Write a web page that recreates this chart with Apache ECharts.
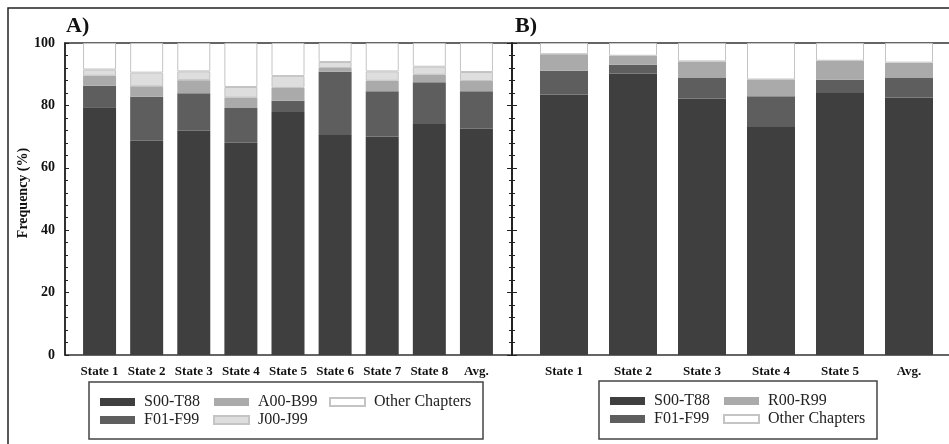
<!DOCTYPE html>
<html>
<head>
<meta charset="utf-8">
<script src="https://cdn.jsdelivr.net/npm/echarts@6/dist/echarts.min.js"></script>
<style>html,body{margin:0;padding:0;background:#fff;}#c{width:949px;height:444px;}</style>
</head>
<body>
<div id="c"></div>
<script>
// ---- Data (Frequency %) ----
const catsA = ['State 1','State 2','State 3','State 4','State 5','State 6','State 7','State 8','Avg.'];
const aS00 = [79.4, 68.7, 71.9, 68.0, 77.9, 70.5, 70.0, 74.0, 72.5];
const aF01 = [6.9, 14.1, 12.0, 11.2, 3.6, 20.3, 14.5, 13.4, 12.0];
const aA00 = [3.2, 3.3, 4.2, 3.3, 4.1, 1.2, 3.4, 2.4, 3.3];
const aJ00 = [2.0, 4.4, 2.8, 3.4, 3.8, 1.9, 3.0, 2.6, 2.9];
const aOther = [8.5, 9.5, 9.1, 14.1, 10.6, 6.1, 9.1, 7.6, 9.3];

const catsB = ['State 1','State 2','State 3','State 4','State 5','Avg.'];
const bS00 = [83.5, 90.2, 82.2, 73.1, 84.0, 82.5];
const bF01 = [7.6, 2.8, 6.6, 9.8, 4.2, 6.3];
const bR00 = [5.3, 2.9, 5.3, 5.4, 6.1, 4.9];
const bOther = [3.6, 4.1, 5.9, 11.7, 5.7, 6.3];

const SERIF = '"Liberation Serif", "DejaVu Serif", serif';
const C_S = '#3f3f3f', C_F = '#5e5e5e', C_A = '#aaaaaa', C_J = '#dedede', C_O = '#ffffff';

const chart = echarts.init(document.getElementById('c'), null, {renderer:'canvas'});

function bar(name, data, color, xi, yi, stack, w, border) {
  return {
    name, type:'bar', data, stack, xAxisIndex: xi, yAxisIndex: yi, barWidth: w,
    itemStyle: { color, borderColor: border ? '#c4c4c4' : color, borderWidth: border ? 1 : 0 },
    emphasis: { disabled: true }, animation: false
  };
}

const legendText = { fontFamily: SERIF, fontSize: 16, color: '#222', padding: [0,0,0,4] };
function legend(data, left, top) {
  return { data, left, top, orient: 'vertical', padding: 0, itemGap: 2, itemWidth: 35, itemHeight: 8,
           icon: 'rect', selectedMode: false, textStyle: legendText };
}

const catLabel = { fontFamily: SERIF, fontWeight: 'bold', fontSize: 13, color: '#111', margin: 10, interval: 0 };

const option = {
  animation: false,
  grid: [
    { left: 65, top: 43, width: 447, height: 312, show: true, borderColor: '#333', borderWidth: 1.5, backgroundColor: 'transparent', outerBoundsMode: 'none' },
    { left: 512, top: 43, width: 460, height: 312, show: true, borderColor: '#333', borderWidth: 1.5, backgroundColor: 'transparent', outerBoundsMode: 'none' },
    { left: 76, top: 43, width: 424, height: 312, outerBoundsMode: 'none' },
    { left: 529.5, top: 43, width: 414, height: 312, outerBoundsMode: 'none' }
  ],
  xAxis: [
    { gridIndex: 0, type: 'value', show: false },
    { gridIndex: 1, type: 'value', show: false },
    { gridIndex: 2, type: 'category', data: catsA, axisLine: {show:false}, axisTick: {show:false}, axisLabel: catLabel },
    { gridIndex: 3, type: 'category', data: catsB, axisLine: {show:false}, axisTick: {show:false}, axisLabel: catLabel }
  ],
  yAxis: [
    { gridIndex: 0, type: 'value', min: 0, max: 100, interval: 20, position: 'left',
      name: 'Frequency (%)', nameLocation: 'middle', nameRotate: 90, nameGap: 35,
      nameTextStyle: { fontFamily: SERIF, fontWeight: 'bold', fontSize: 14, color: '#111', padding: [0,0,0,12] },
      axisLine: { show: true, lineStyle: { color: '#222', width: 1.5 } },
      axisTick: { show: true, inside: true, length: 4, lineStyle: { color: '#222' } },
      minorTick: { show: true, splitNumber: 5, length: 3, lineStyle: { color: '#222' } },
      splitLine: { show: false },
      axisLabel: { fontFamily: SERIF, fontWeight: 'bold', fontSize: 14, color: '#111', margin: 10 } },
    { gridIndex: 1, type: 'value', min: 0, max: 100, interval: 20, position: 'left',
      axisLine: { show: true, lineStyle: { color: '#222', width: 1.5 } },
      axisTick: { show: true, inside: false, length: 5, lineStyle: { color: '#222' } },
      minorTick: { show: true, splitNumber: 5, length: 3, lineStyle: { color: '#222' } },
      splitLine: { show: false }, axisLabel: { show: false } },
    { gridIndex: 1, type: 'value', min: 0, max: 100, interval: 20, position: 'left', offset: 0,
      axisLine: { show: true, lineStyle: { color: '#222', width: 1.5 } },
      axisTick: { show: true, inside: true, length: 5, lineStyle: { color: '#222' } },
      minorTick: { show: true, splitNumber: 5, length: 3, lineStyle: { color: '#222' } },
      splitLine: { show: false }, axisLabel: { show: false } },
    { gridIndex: 2, type: 'value', min: 0, max: 100, show: false },
    { gridIndex: 3, type: 'value', min: 0, max: 100, show: false }
  ],
  legend: [
    legend(['S00-T88','F01-F99'], 100, 394),
    legend(['A00-B99','J00-J99'], 213, 394),
    legend(['Other Chapters'], 329, 394),
    legend(['S00-T88','F01-F99'], 610, 393),
    legend(['R00-R99','Other Chapters'], 723, 393)
  ],
  series: [
    bar('S00-T88', aS00, C_S, 2, 3, 'a', 33, false),
    bar('F01-F99', aF01, C_F, 2, 3, 'a', 33, false),
    bar('A00-B99', aA00, C_A, 2, 3, 'a', 33, false),
    bar('J00-J99', aJ00, C_J, 2, 3, 'a', 33, true),
    bar('Other Chapters', aOther, C_O, 2, 3, 'a', 33, true),
    bar('S00-T88', bS00, C_S, 3, 4, 'b', 48, false),
    bar('F01-F99', bF01, C_F, 3, 4, 'b', 48, false),
    bar('R00-R99', bR00, C_A, 3, 4, 'b', 48, false),
    bar('Other Chapters', bOther, C_O, 3, 4, 'b', 48, true)
  ],
  graphic: [
    { type: 'rect', shape: { x: 8, y: 8, width: 1000, height: 500 }, style: { fill: 'none', stroke: '#222', lineWidth: 1.5 }, silent: true },
    { type: 'rect', shape: { x: 89, y: 382, width: 394, height: 57 }, style: { fill: 'none', stroke: '#444', lineWidth: 1.5 }, silent: true },
    { type: 'rect', shape: { x: 599, y: 381, width: 278, height: 58 }, style: { fill: 'none', stroke: '#444', lineWidth: 1.5 }, silent: true },
    { type: 'text', left: 66, top: 15, style: { text: 'A)', font: 'bold 22px ' + SERIF, fill: '#111' }, silent: true },
    { type: 'text', left: 515, top: 15, style: { text: 'B)', font: 'bold 22px ' + SERIF, fill: '#111' }, silent: true }
  ]
};
chart.setOption(option);
</script>
</body>
</html>
